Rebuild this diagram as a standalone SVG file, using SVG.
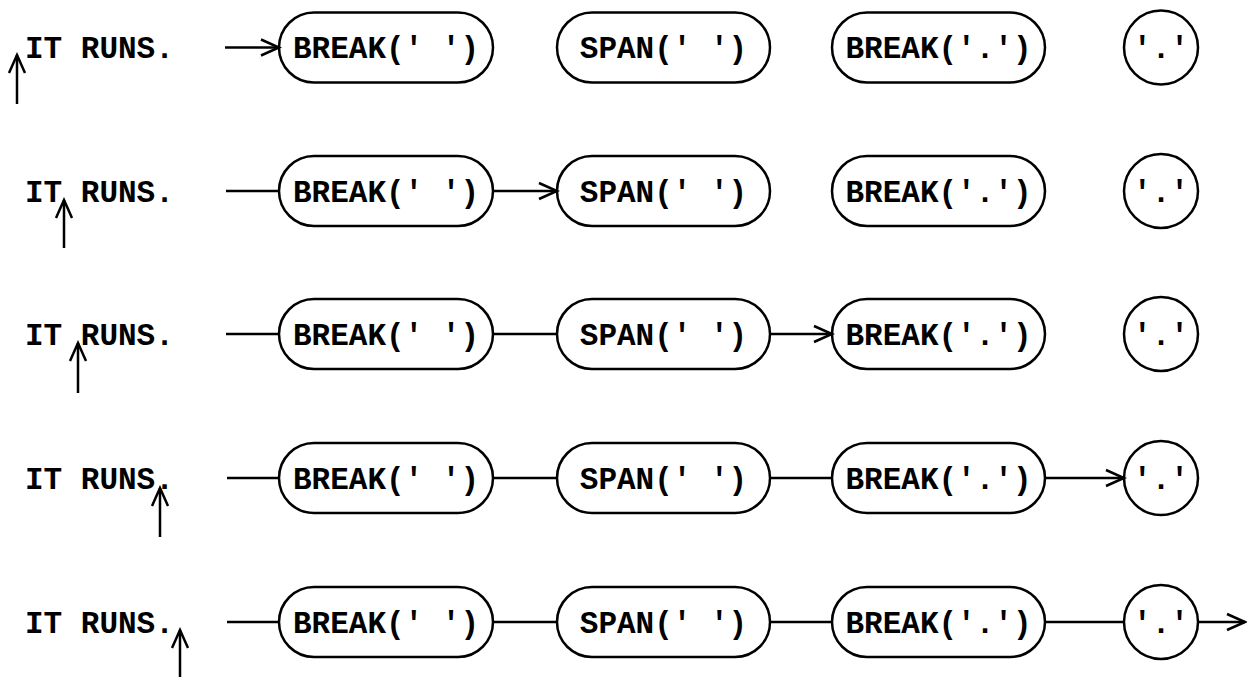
<svg xmlns="http://www.w3.org/2000/svg" width="1247" height="677" viewBox="0 0 1247 677">
<style>
.n{fill:#fff;stroke:#000;stroke-width:2.5}
.t{font-family:"Liberation Mono","Courier New",monospace;font-weight:bold;font-size:31px;fill:#000;text-anchor:middle}
.s{font-family:"Liberation Mono","Courier New",monospace;font-weight:bold;font-size:31px;fill:#000}
.e{stroke:#000;stroke-width:2.5;fill:none}
.a{stroke:#000;stroke-width:2.5;fill:none;marker-end:url(#ah)}
</style>
<defs>
<marker id="ah" markerUnits="userSpaceOnUse" markerWidth="22" markerHeight="20" refX="19" refY="10" orient="auto" viewBox="0 0 22 20">
<path d="M1,2 L19,10 L1,18" fill="none" stroke="#000" stroke-width="2.5"/>
</marker>
</defs>
<g id="row1">
<text class="s" x="25" y="58">IT RUNS.</text>
<g id="r1-break1"><rect class="n" x="279" y="12.5" width="214" height="70" rx="35"/><text class="t" x="386" y="58">BREAK(' ')</text></g>
<g id="r1-span"><rect class="n" x="557" y="12.5" width="213" height="70" rx="35"/><text class="t" x="663.5" y="58">SPAN(' ')</text></g>
<g id="r1-break2"><rect class="n" x="832" y="12.5" width="213" height="70" rx="35"/><text class="t" x="938.5" y="58">BREAK('.')</text></g>
<g id="r1-dot"><circle class="n" cx="1161" cy="47.5" r="37"/><text class="t" x="1161" y="58">'.'</text></g>
</g>
<g id="row2">
<text class="s" x="25" y="202">IT RUNS.</text>
<g id="r2-break1"><rect class="n" x="279" y="156" width="214" height="70" rx="35"/><text class="t" x="386" y="202">BREAK(' ')</text></g>
<g id="r2-span"><rect class="n" x="557" y="156" width="213" height="70" rx="35"/><text class="t" x="663.5" y="202">SPAN(' ')</text></g>
<g id="r2-break2"><rect class="n" x="832" y="156" width="213" height="70" rx="35"/><text class="t" x="938.5" y="202">BREAK('.')</text></g>
<g id="r2-dot"><circle class="n" cx="1161" cy="191" r="37"/><text class="t" x="1161" y="202">'.'</text></g>
</g>
<g id="row3">
<text class="s" x="25" y="345">IT RUNS.</text>
<g id="r3-break1"><rect class="n" x="279" y="299" width="214" height="70" rx="35"/><text class="t" x="386" y="345">BREAK(' ')</text></g>
<g id="r3-span"><rect class="n" x="557" y="299" width="213" height="70" rx="35"/><text class="t" x="663.5" y="345">SPAN(' ')</text></g>
<g id="r3-break2"><rect class="n" x="832" y="299" width="213" height="70" rx="35"/><text class="t" x="938.5" y="345">BREAK('.')</text></g>
<g id="r3-dot"><circle class="n" cx="1161" cy="334" r="37"/><text class="t" x="1161" y="345">'.'</text></g>
</g>
<g id="row4">
<text class="s" x="25" y="489">IT RUNS.</text>
<g id="r4-break1"><rect class="n" x="279" y="443" width="214" height="70" rx="35"/><text class="t" x="386" y="489">BREAK(' ')</text></g>
<g id="r4-span"><rect class="n" x="557" y="443" width="213" height="70" rx="35"/><text class="t" x="663.5" y="489">SPAN(' ')</text></g>
<g id="r4-break2"><rect class="n" x="832" y="443" width="213" height="70" rx="35"/><text class="t" x="938.5" y="489">BREAK('.')</text></g>
<g id="r4-dot"><circle class="n" cx="1161" cy="478" r="37"/><text class="t" x="1161" y="489">'.'</text></g>
</g>
<g id="row5">
<text class="s" x="25" y="633">IT RUNS.</text>
<g id="r5-break1"><rect class="n" x="279" y="587" width="214" height="70" rx="35"/><text class="t" x="386" y="633">BREAK(' ')</text></g>
<g id="r5-span"><rect class="n" x="557" y="587" width="213" height="70" rx="35"/><text class="t" x="663.5" y="633">SPAN(' ')</text></g>
<g id="r5-break2"><rect class="n" x="832" y="587" width="213" height="70" rx="35"/><text class="t" x="938.5" y="633">BREAK('.')</text></g>
<g id="r5-dot"><circle class="n" cx="1161" cy="622" r="37"/><text class="t" x="1161" y="633">'.'</text></g>
</g>
<g id="connectors">
<line class="a" x1="17" y1="104" x2="17" y2="55"/>
<line class="a" x1="225" y1="47.5" x2="279" y2="47.5"/>
<line class="a" x1="64" y1="248" x2="64" y2="200"/>
<line class="e" x1="226" y1="191" x2="279" y2="191"/>
<line class="a" x1="493" y1="191" x2="557" y2="191"/>
<line class="a" x1="78" y1="393" x2="78" y2="343"/>
<line class="e" x1="226" y1="334" x2="279" y2="334"/>
<line class="e" x1="493" y1="334" x2="557" y2="334"/>
<line class="a" x1="770" y1="334" x2="832" y2="334"/>
<line class="a" x1="160" y1="537" x2="160" y2="488"/>
<line class="e" x1="227" y1="478" x2="279" y2="478"/>
<line class="e" x1="493" y1="478" x2="557" y2="478"/>
<line class="e" x1="770" y1="478" x2="832" y2="478"/>
<line class="a" x1="1045" y1="478" x2="1124" y2="478"/>
<line class="a" x1="180" y1="677" x2="180" y2="630"/>
<line class="e" x1="227" y1="622" x2="279" y2="622"/>
<line class="e" x1="493" y1="622" x2="557" y2="622"/>
<line class="e" x1="770" y1="622" x2="832" y2="622"/>
<line class="e" x1="1045" y1="622" x2="1124" y2="622"/>
<line class="a" x1="1198" y1="622" x2="1245" y2="622"/>
</g>
</svg>
